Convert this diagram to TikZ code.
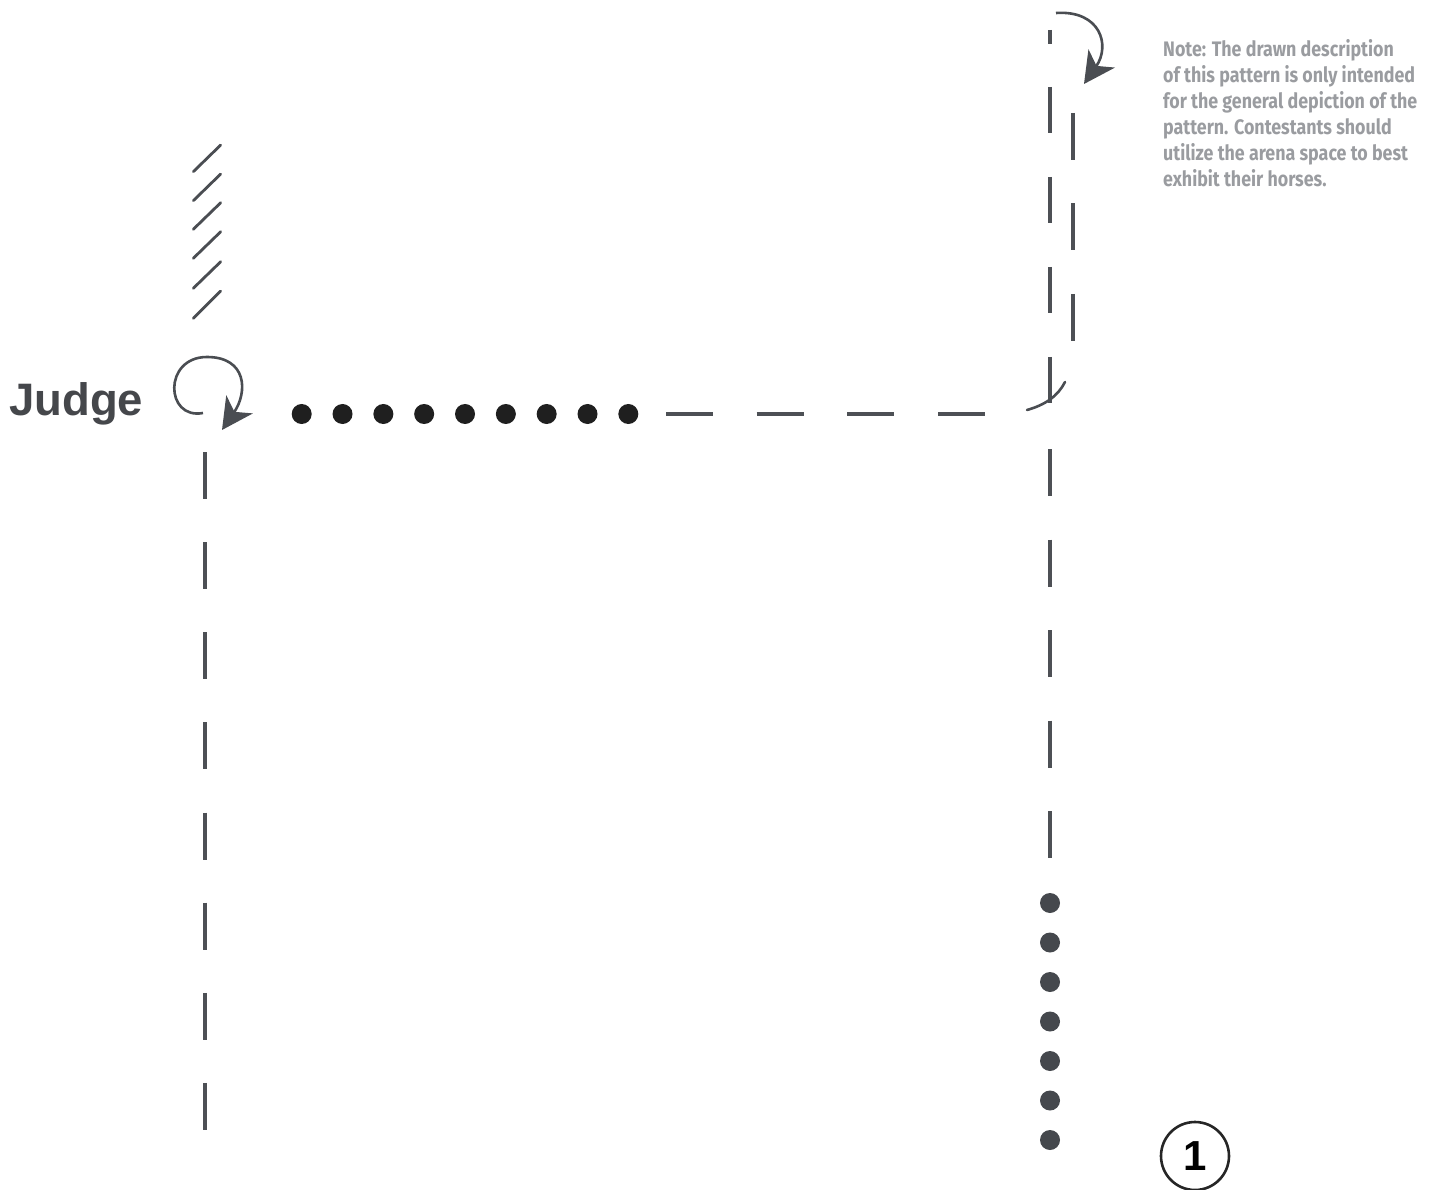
\documentclass[tikz,border=0pt]{standalone}
\usepackage{fontspec}
\setmainfont{Liberation Sans}
\newfontfamily\notefont[FakeStretch=0.85]{Fira Sans}
\usetikzlibrary{arrows.meta}
\definecolor{dashgray}{HTML}{4D5055}
\definecolor{arcgray}{HTML}{4A4D52}
\definecolor{dotblack}{HTML}{1F1F1F}
\definecolor{dotgray}{HTML}{45484D}
\definecolor{notegray}{HTML}{9A9CA0}
\definecolor{judgegray}{HTML}{45474B}
\begin{document}
\begin{tikzpicture}[x=1pt,y=-1pt,
  dashline/.style={draw=dashgray, line width=3.5pt},
  turnarc/.style={draw=arcgray, line width=2.6pt},
  turnhead/.style={-{Stealth[length=31pt,width=32pt,inset=9pt,fill=arcgray]}},
  hatchline/.style={draw=arcgray, line width=2.8pt, line cap=round},
  blackdot/.style={fill=dotblack},
  graydot/.style={fill=dotgray}]
\useasboundingbox (0,0) rectangle (1436,1190);

% texts
\node[anchor=base west, inner sep=0, text=judgegray, font=\fontsize{45.5}{50}\selectfont\bfseries] (judge) at (9,415) {Judge};
\node[anchor=north west, inner sep=0, text=notegray, align=left,
      font=\notefont\bfseries\fontsize{21}{26}\selectfont] (note) at (1163,39)
  {Note: The drawn description\\of this pattern is only intended\\for the general depiction of the\\pattern. Contestants should\\utilize the arena space to best\\exhibit their horses.};
\node[circle, draw=black!85, line width=2.6pt, minimum size=68pt, inner sep=0,
      text=black, font=\fontsize{42}{46}\selectfont\bfseries] (start) at (1195,1156) {1};

% coordinates
\coordinate (lefttop) at (205,452);
\coordinate (leftbot) at (205,1130);
\coordinate (rlowtop) at (1050,449);
\coordinate (rlowbot) at (1050,858);
\coordinate (htop) at (666,414);
\coordinate (hend) at (985,414);
\coordinate (rupA) at (1050,87);
\coordinate (rupB) at (1050,403);
\coordinate (rshortA) at (1050,30);
\coordinate (rshortB) at (1050,44);
\coordinate (rtwoA) at (1073,113);
\coordinate (rtwoB) at (1073,341);
\coordinate (cornA) at (1027,410);
\coordinate (cornB) at (1065,382);
\coordinate (loopA) at (203,413);
\coordinate (loopB) at (222,430);
\coordinate (topA) at (1056,13);
\coordinate (topB) at (1084,84);

% dashed paths
\draw[dashline, dash pattern=on 47pt off 43.14pt] (lefttop) -- (leftbot);
\draw[dashline, dash pattern=on 47pt off 43.5pt] (rlowtop) -- (rlowbot);
\draw[dashline, dash pattern=on 47pt off 43.67pt] (htop) -- (hend);
\draw[dashline, dash pattern=on 46pt off 44pt] (rupA) -- (rupB);
\draw[dashline] (rshortA) -- (rshortB);
\draw[dashline, dash pattern=on 47pt off 43.5pt] (rtwoA) -- (rtwoB);

% corner arc
\draw[turnarc, line cap=round] (cornA) .. controls (1045,405) and (1058,396) .. (cornB);

% turn arrows
\draw[turnarc, turnhead] (loopA) .. controls (165,420) and (163,357) .. (207,357)
   .. controls (247,357) and (248,392) .. (loopB);
\draw[turnarc, turnhead] (topA) .. controls (1100,10) and (1111,45) .. (topB);

% hatch
\foreach \t/\b in {145/171.7,174/200.7,202.7/229.3,231.7/258.3,261.7/288.3,291/318.3}{
  \draw[hatchline] (193.3,\b) -- (220.7,\t);
}

% dots
\foreach \i in {0,...,8}{
  \fill[blackdot] (301.7+40.83*\i,414) circle (10pt);
}
\foreach \i in {0,...,6}{
  \fill[graydot] (1050,903+39.5*\i) circle (10pt);
}
\end{tikzpicture}
\end{document}
